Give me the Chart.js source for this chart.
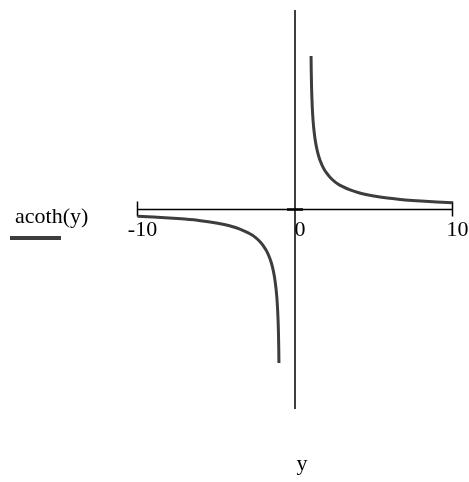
<!DOCTYPE html>
<html>
<head>
<meta charset="utf-8">
<script src="https://cdn.jsdelivr.net/npm/chart.js@4"></script>
<style>
  html, body { margin: 0; padding: 0; background: #fff; }
  #wrap { width: 469px; height: 482px; }
</style>
</head>
<body>
<div id="wrap"><canvas id="plot" width="469" height="482"></canvas></div>
<script>
// acoth(y) sampled on both branches
const rightX = [1.02, 1.03, 1.05, 1.07, 1.1, 1.15, 1.2, 1.3, 1.4, 1.5, 1.6, 1.8, 2, 2.25, 2.5, 2.75, 3, 3.5, 4, 4.5, 5, 6, 7, 8, 9, 10];
const rightY = [2.308, 2.107, 1.857, 1.693, 1.522, 1.331, 1.199, 1.018, 0.896, 0.805, 0.733, 0.626, 0.549, 0.478, 0.424, 0.381, 0.347, 0.294, 0.255, 0.226, 0.203, 0.168, 0.144, 0.126, 0.112, 0.100];
const leftX = [-10, -9, -8, -7, -6, -5, -4.5, -4, -3.5, -3, -2.75, -2.5, -2.25, -2, -1.8, -1.6, -1.5, -1.4, -1.3, -1.2, -1.15, -1.1, -1.07, -1.05, -1.03, -1.02];
const leftY = [-0.100, -0.112, -0.126, -0.144, -0.168, -0.203, -0.226, -0.255, -0.294, -0.347, -0.381, -0.424, -0.478, -0.549, -0.626, -0.733, -0.805, -0.896, -1.018, -1.199, -1.331, -1.522, -1.693, -1.857, -2.107, -2.308];
const xTicks = [-10, 0, 10];
const xRange = [-10, 10];
const yRange = [-3, 3];
const seriesName = 'acoth(y)';
const axisTitle = 'y';

const toPoints = (xs, ys) => xs.map((x, i) => ({ x, y: ys[i] }));

const curveColor = '#3d3d3d';
const font = '22px "Liberation Serif", "Times New Roman", serif';

// axes crossing at the origin, end ticks, labels and legend
const mathAxes = {
  id: 'mathAxes',
  beforeDatasetsDraw(chart) {
    const { ctx, chartArea: a, scales: { x, y } } = chart;
    const x0 = x.getPixelForValue(0);
    const y0 = y.getPixelForValue(0);
    ctx.save();
    ctx.strokeStyle = '#000';
    ctx.lineWidth = 1.5;
    ctx.beginPath();
    ctx.moveTo(a.left, y0); ctx.lineTo(a.right, y0);
    ctx.moveTo(x0, a.top); ctx.lineTo(x0, a.bottom);
    xTicks.filter(v => v !== 0).forEach(v => {
      const px = x.getPixelForValue(v);
      ctx.moveTo(px, y0 - 8); ctx.lineTo(px, y0 + 7);
    });
    ctx.stroke();
    ctx.lineWidth = 2.5;
    ctx.beginPath();
    ctx.moveTo(x0 - 8, y0); ctx.lineTo(x0 + 8, y0);
    ctx.stroke();
    ctx.restore();
  },
  afterDraw(chart) {
    const { ctx, chartArea: a, scales: { x, y } } = chart;
    const y0 = y.getPixelForValue(0);
    ctx.save();
    ctx.fillStyle = '#000';
    ctx.font = font;
    ctx.textAlign = 'center';
    ctx.textBaseline = 'alphabetic';
    xTicks.forEach(v => {
      const label = v < 0 ? '\u2212' + Math.abs(v) : String(v);
      ctx.fillText(label.replace('\u2212', '-'), x.getPixelForValue(v) + 5, y0 + 26);
    });
    ctx.fillText(axisTitle, (a.left + a.right) / 2 + 7, 470);

    ctx.textAlign = 'left';
    ctx.fillText(seriesName, 15, 223);
    ctx.strokeStyle = curveColor;
    ctx.lineWidth = 4;
    ctx.beginPath();
    ctx.moveTo(10, 238); ctx.lineTo(61, 238);
    ctx.stroke();
    ctx.restore();
  }
};

new Chart(document.getElementById('plot'), {
  type: 'scatter',
  data: {
    datasets: [
      { label: seriesName, data: toPoints(leftX, leftY) },
      { label: seriesName, data: toPoints(rightX, rightY) }
    ].map(d => ({
      ...d,
      showLine: true,
      borderColor: curveColor,
      borderWidth: 3,
      pointRadius: 0,
      cubicInterpolationMode: 'monotone',
      clip: false
    }))
  },
  options: {
    responsive: false,
    animation: false,
    events: [],
    layout: { padding: { left: 137.5, right: 16.5, top: 10, bottom: 73 } },
    plugins: { legend: { display: false }, tooltip: { enabled: false } },
    scales: {
      x: { type: 'linear', min: xRange[0], max: xRange[1], display: false },
      y: { type: 'linear', min: yRange[0], max: yRange[1], display: false }
    }
  },
  plugins: [mathAxes]
});
</script>
</body>
</html>
